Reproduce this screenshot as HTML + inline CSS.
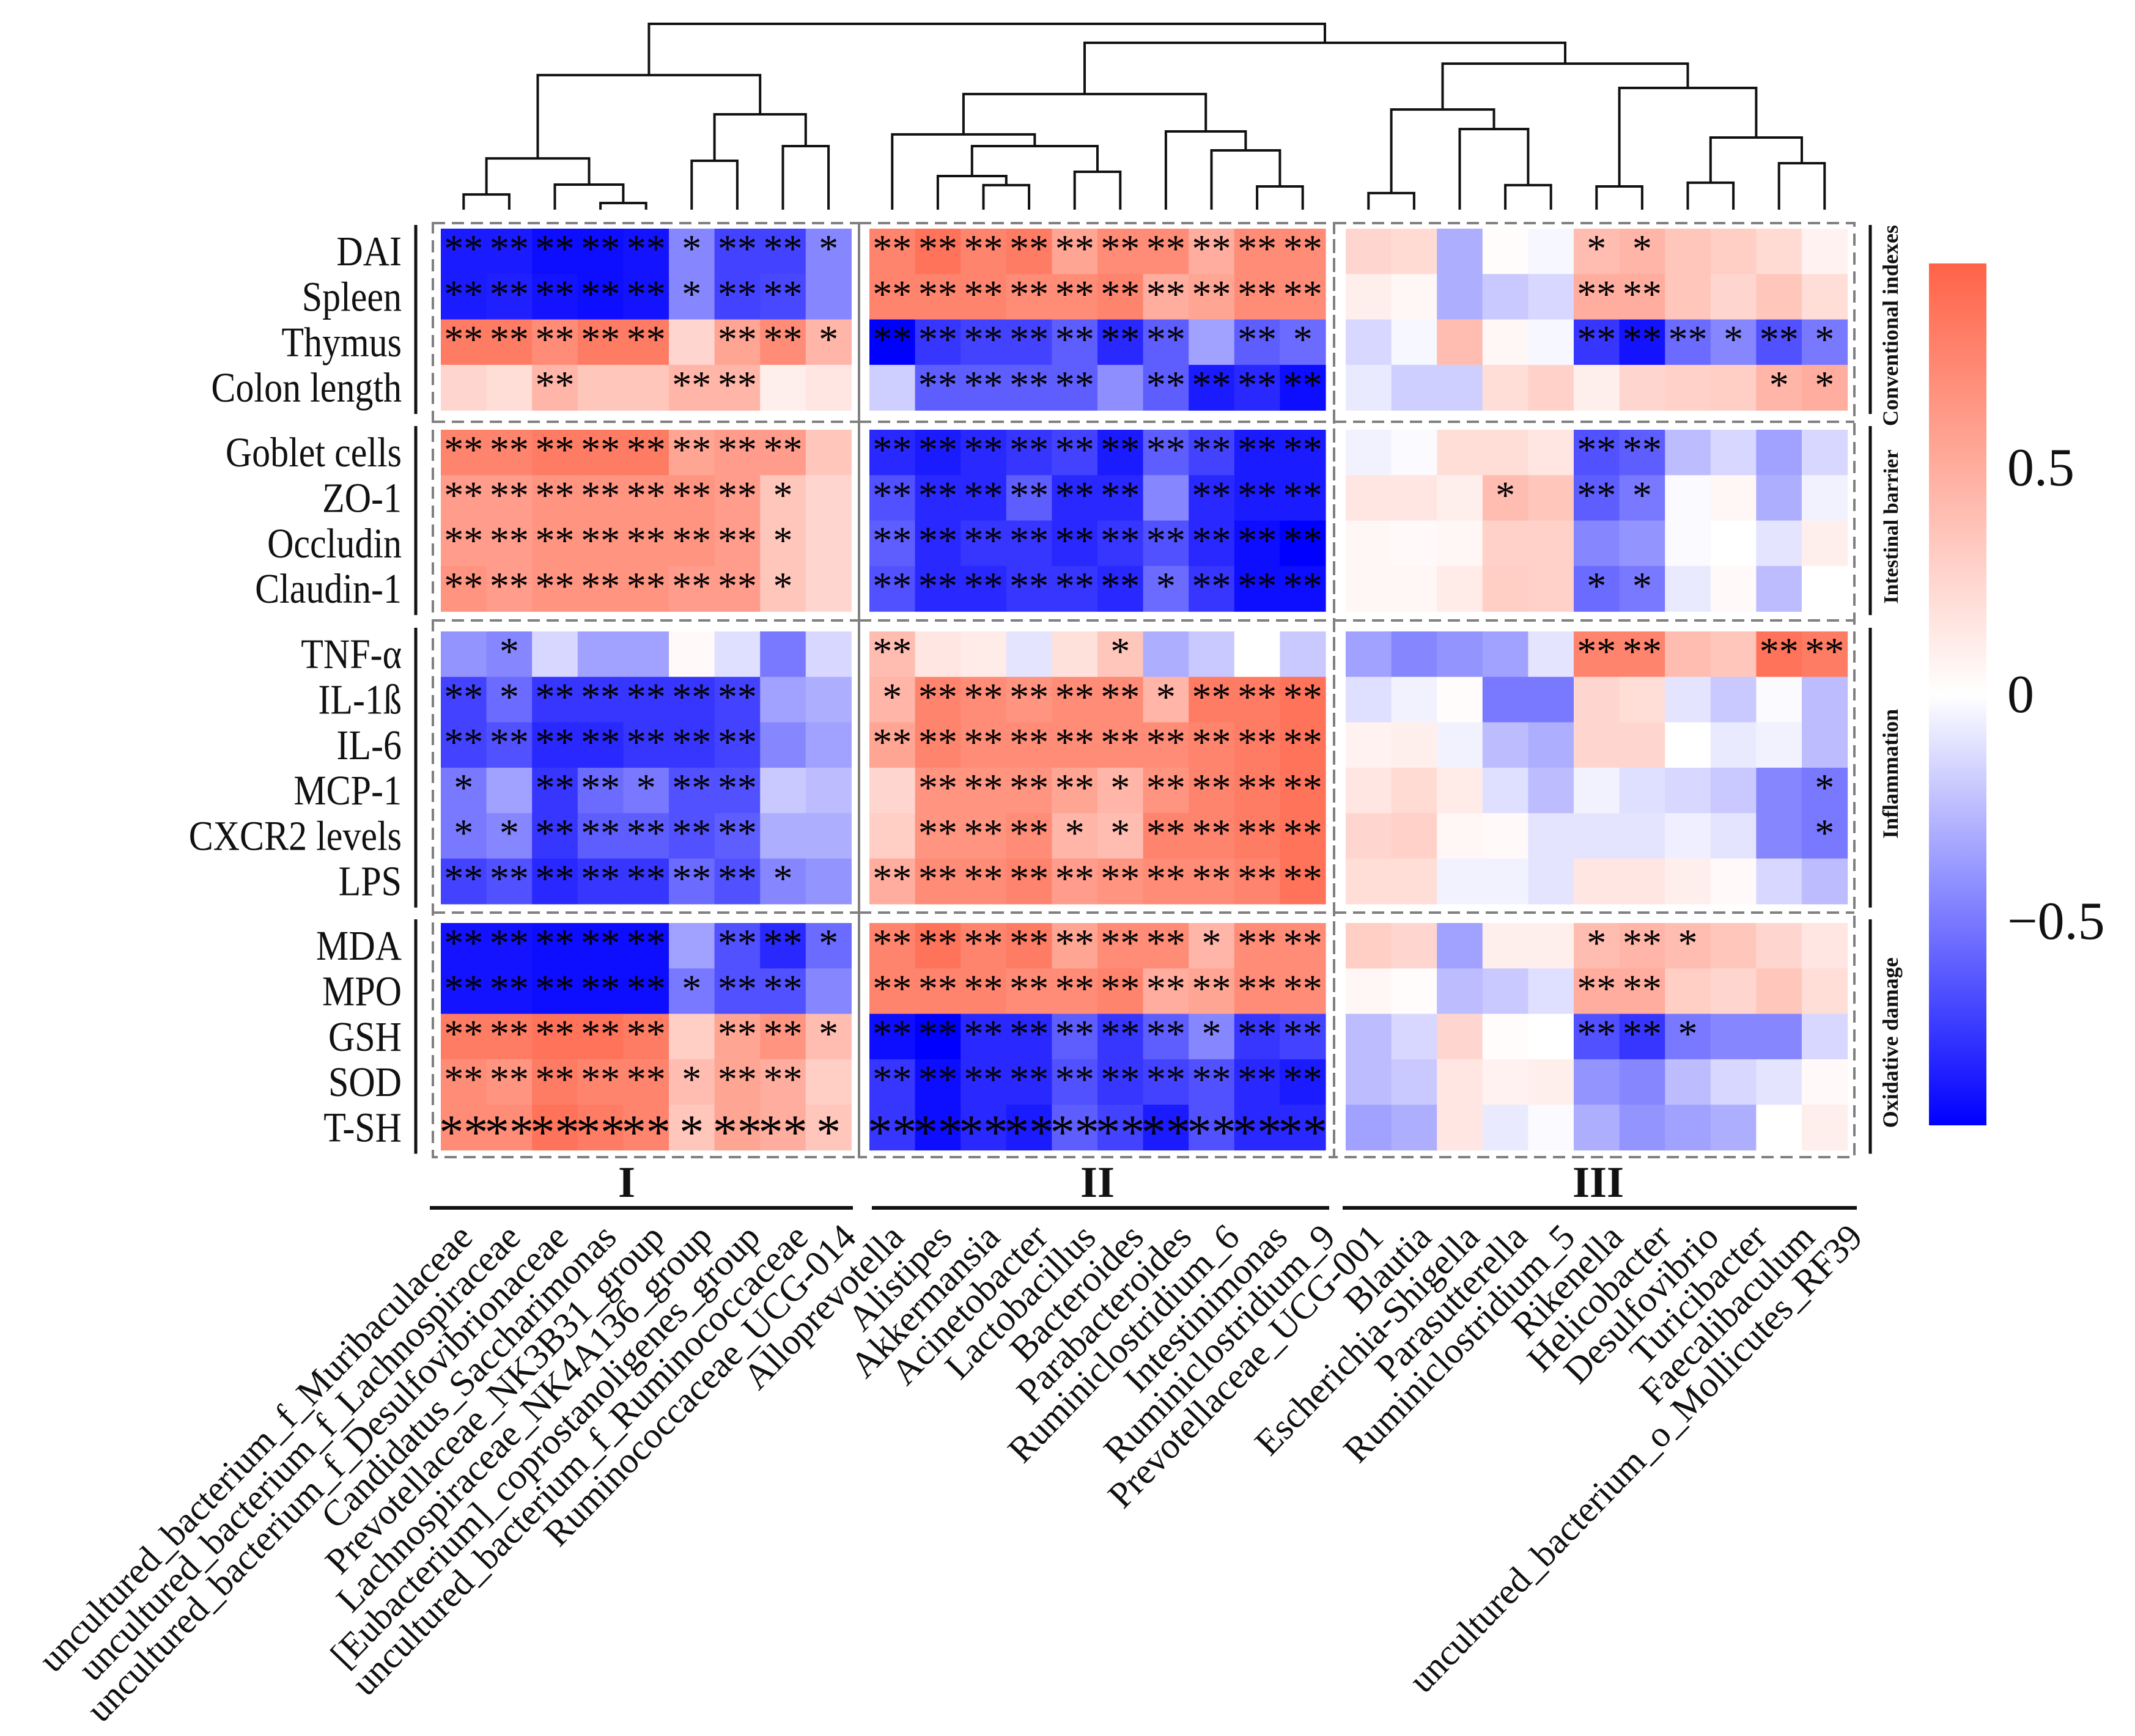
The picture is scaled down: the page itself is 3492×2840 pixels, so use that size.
<!DOCTYPE html>
<html><head><meta charset="utf-8"><style>
html,body{margin:0;padding:0;background:#fff}
svg{display:block}
text{font-family:"Liberation Serif","Times New Roman",serif}
</style></head><body>
<svg id="chart" width="3492" height="2840" viewBox="0 0 3492 2840" xmlns="http://www.w3.org/2000/svg" font-family="Liberation Serif, serif">
<g id="dendro"></g>
<g id="cells"></g>
<g id="stars"></g>
<g id="boxes"></g>
<g id="rowlabels"></g>
<g id="collabels"></g>
<g id="groups"></g>
<g id="legend"></g>
</svg>
<script>
const rowLabels = ["DAI","Spleen","Thymus","Colon length","Goblet cells","ZO-1","Occludin","Claudin-1","TNF-α","IL-1ß","IL-6","MCP-1","CXCR2 levels","LPS","MDA","MPO","GSH","SOD","T-SH"];
const rowGroups = ["Conventional indexes","Intestinal barrier","Inflammation","Oxidative damage"];
const rowGroupSizes = [4,4,6,5];
const clusterNames = ["I","II","III"];
const clusterSizes = [9,10,11];
const colLabels = ["uncultured_bacterium_f_Muribaculaceae","uncultured_bacterium_f_Lachnospiraceae","uncultured_bacterium_f_Desulfovibrionaceae","Candidatus_Saccharimonas","Prevotellaceae_NK3B31_group","Lachnospiraceae_NK4A136_group","[Eubacterium]_coprostanoligenes_group","uncultured_bacterium_f_Ruminococcaceae","Ruminococcaceae_UCG-014","Alloprevotella","Alistipes","Akkermansia","Acinetobacter","Lactobacillus","Bacteroides","Parabacteroides","Ruminiclostridium_6","Intestinimonas","Ruminiclostridium_9","Prevotellaceae_UCG-001","Blautia","Escherichia-Shigella","Parasutterella","Ruminiclostridium_5","Rikenella","Helicobacter","Desulfovibrio","Turicibacter","Faecalibaculum","uncultured_bacterium_o_Mollicutes_RF39"];
const valuesI = [
[-0.85,-0.85,-0.9,-0.9,-0.88,-0.45,-0.7,-0.7,-0.45],
[-0.85,-0.83,-0.88,-0.9,-0.88,-0.45,-0.7,-0.68,-0.45],
[0.8,0.8,0.7,0.8,0.8,0.25,0.55,0.7,0.45],
[0.25,0.2,0.45,0.35,0.35,0.45,0.45,0.1,0.15],
[0.75,0.75,0.8,0.8,0.8,0.55,0.6,0.6,0.35],
[0.6,0.6,0.65,0.65,0.65,0.65,0.6,0.35,0.25],
[0.6,0.6,0.65,0.65,0.65,0.65,0.6,0.35,0.25],
[0.65,0.6,0.65,0.65,0.65,0.6,0.6,0.35,0.25],
[-0.4,-0.45,-0.15,-0.35,-0.35,0.03,-0.12,-0.5,-0.15],
[-0.7,-0.55,-0.75,-0.75,-0.75,-0.75,-0.7,-0.35,-0.3],
[-0.7,-0.65,-0.8,-0.8,-0.75,-0.75,-0.7,-0.45,-0.35],
[-0.5,-0.35,-0.75,-0.55,-0.5,-0.65,-0.65,-0.2,-0.25],
[-0.5,-0.45,-0.75,-0.6,-0.6,-0.65,-0.6,-0.3,-0.3],
[-0.7,-0.65,-0.8,-0.75,-0.75,-0.55,-0.65,-0.45,-0.4],
[-0.88,-0.88,-0.9,-0.9,-0.9,-0.35,-0.65,-0.8,-0.55],
[-0.88,-0.88,-0.9,-0.9,-0.9,-0.5,-0.65,-0.65,-0.45],
[0.8,0.8,0.85,0.85,0.8,0.3,0.55,0.65,0.4],
[0.7,0.65,0.8,0.75,0.75,0.4,0.55,0.5,0.3],
[0.7,0.7,0.85,0.8,0.75,0.35,0.55,0.5,0.35]];
const valuesII = [
[0.75,0.85,0.75,0.8,0.55,0.7,0.7,0.5,0.7,0.7],
[0.75,0.75,0.75,0.7,0.7,0.75,0.5,0.55,0.7,0.7],
[-0.95,-0.75,-0.7,-0.7,-0.6,-0.8,-0.6,-0.35,-0.6,-0.55],
[-0.18,-0.6,-0.6,-0.6,-0.6,-0.42,-0.6,-0.85,-0.8,-0.9],
[-0.8,-0.85,-0.8,-0.75,-0.7,-0.85,-0.6,-0.7,-0.85,-0.85],
[-0.65,-0.8,-0.8,-0.6,-0.8,-0.8,-0.45,-0.8,-0.85,-0.85],
[-0.6,-0.8,-0.75,-0.75,-0.8,-0.75,-0.65,-0.8,-0.9,-0.95],
[-0.65,-0.8,-0.8,-0.75,-0.75,-0.8,-0.55,-0.75,-0.9,-0.9],
[0.4,0.15,0.12,-0.1,0.18,0.35,-0.3,-0.2,0.0,-0.2],
[0.45,0.75,0.7,0.65,0.7,0.7,0.45,0.8,0.8,0.85],
[0.55,0.75,0.7,0.7,0.7,0.7,0.7,0.75,0.8,0.85],
[0.25,0.65,0.65,0.65,0.55,0.45,0.65,0.75,0.8,0.85],
[0.3,0.65,0.65,0.7,0.45,0.4,0.75,0.75,0.8,0.85],
[0.5,0.7,0.7,0.75,0.6,0.65,0.7,0.7,0.75,0.85],
[0.75,0.85,0.75,0.8,0.55,0.7,0.7,0.45,0.7,0.7],
[0.75,0.75,0.75,0.7,0.7,0.75,0.5,0.55,0.7,0.7],
[-0.9,-0.95,-0.8,-0.8,-0.6,-0.75,-0.6,-0.45,-0.75,-0.7],
[-0.75,-0.9,-0.8,-0.8,-0.65,-0.75,-0.7,-0.65,-0.8,-0.85],
[-0.75,-0.9,-0.8,-0.85,-0.6,-0.7,-0.85,-0.65,-0.8,-0.8]];
const valuesIII = [
[0.25,0.22,-0.3,0.02,-0.03,0.4,0.45,0.35,0.3,0.22,0.08],
[0.1,0.05,-0.3,-0.2,-0.15,0.5,0.5,0.35,0.25,0.35,0.2],
[-0.15,-0.03,0.4,0.05,-0.03,-0.75,-0.88,-0.55,-0.45,-0.65,-0.5],
[-0.08,-0.18,-0.18,0.2,0.28,0.1,0.25,0.28,0.3,0.45,0.5],
[-0.05,-0.02,0.2,0.2,0.15,-0.65,-0.6,-0.25,-0.15,-0.35,-0.15],
[0.15,0.15,0.1,0.4,0.35,-0.6,-0.5,-0.02,0.05,-0.3,-0.05],
[0.05,0.03,0.05,0.28,0.28,-0.45,-0.4,-0.02,0.0,-0.1,0.1],
[0.05,0.05,0.12,0.3,0.28,-0.55,-0.5,-0.08,0.03,-0.25,0.0],
[-0.35,-0.45,-0.4,-0.35,-0.1,0.75,0.75,0.4,0.35,0.85,0.8],
[-0.12,-0.05,0.02,-0.5,-0.5,0.25,0.2,-0.1,-0.2,-0.02,-0.25],
[0.08,0.1,-0.05,-0.25,-0.3,0.25,0.25,0.0,-0.08,-0.05,-0.25],
[0.15,0.22,0.12,-0.12,-0.25,-0.05,-0.12,-0.15,-0.2,-0.45,-0.5],
[0.25,0.28,0.05,0.03,-0.1,-0.1,-0.1,-0.06,-0.1,-0.45,-0.5],
[0.2,0.2,-0.05,-0.05,-0.1,0.15,0.15,0.1,0.03,-0.15,-0.25],
[0.3,0.25,-0.35,0.1,0.1,0.4,0.45,0.4,0.35,0.25,0.15],
[0.05,0.02,-0.25,-0.2,-0.12,0.5,0.5,0.3,0.25,0.35,0.2],
[-0.25,-0.15,0.25,0.02,0.0,-0.65,-0.75,-0.5,-0.45,-0.45,-0.15],
[-0.25,-0.2,0.15,0.08,0.1,-0.4,-0.45,-0.25,-0.15,-0.1,0.03],
[-0.35,-0.3,0.15,-0.08,-0.02,-0.3,-0.4,-0.35,-0.3,0.0,0.1]];
const starsI = [
[2,2,2,2,2,1,2,2,1],[2,2,2,2,2,1,2,2,0],[2,2,2,2,2,0,2,2,1],[0,0,2,0,0,2,2,0,0],
[2,2,2,2,2,2,2,2,0],[2,2,2,2,2,2,2,1,0],[2,2,2,2,2,2,2,1,0],[2,2,2,2,2,2,2,1,0],
[0,1,0,0,0,0,0,0,0],[2,1,2,2,2,2,2,0,0],[2,2,2,2,2,2,2,0,0],[1,0,2,2,1,2,2,0,0],
[1,1,2,2,2,2,2,0,0],[2,2,2,2,2,2,2,1,0],
[2,2,2,2,2,0,2,2,1],[2,2,2,2,2,1,2,2,0],[2,2,2,2,2,0,2,2,1],[2,2,2,2,2,1,2,2,0],[2,2,2,2,2,1,2,2,1]];
const starsII = [
[2,2,2,2,2,2,2,2,2,2],[2,2,2,2,2,2,2,2,2,2],[2,2,2,2,2,2,2,0,2,1],[0,2,2,2,2,0,2,2,2,2],
[2,2,2,2,2,2,2,2,2,2],[2,2,2,2,2,2,0,2,2,2],[2,2,2,2,2,2,2,2,2,2],[2,2,2,2,2,2,1,2,2,2],
[2,0,0,0,0,1,0,0,0,0],[1,2,2,2,2,2,1,2,2,2],[2,2,2,2,2,2,2,2,2,2],[0,2,2,2,2,1,2,2,2,2],
[0,2,2,2,1,1,2,2,2,2],[2,2,2,2,2,2,2,2,2,2],
[2,2,2,2,2,2,2,1,2,2],[2,2,2,2,2,2,2,2,2,2],[2,2,2,2,2,2,2,1,2,2],[2,2,2,2,2,2,2,2,2,2],[2,2,2,2,2,2,2,2,2,2]];
const starsIII = [
[0,0,0,0,0,1,1,0,0,0,0],[0,0,0,0,0,2,2,0,0,0,0],[0,0,0,0,0,2,2,2,1,2,1],[0,0,0,0,0,0,0,0,0,1,1],
[0,0,0,0,0,2,2,0,0,0,0],[0,0,0,1,0,2,1,0,0,0,0],[0,0,0,0,0,0,0,0,0,0,0],[0,0,0,0,0,1,1,0,0,0,0],
[0,0,0,0,0,2,2,0,0,2,2],[0,0,0,0,0,0,0,0,0,0,0],[0,0,0,0,0,0,0,0,0,0,0],[0,0,0,0,0,0,0,0,0,0,1],
[0,0,0,0,0,0,0,0,0,0,1],[0,0,0,0,0,0,0,0,0,0,0],
[0,0,0,0,0,1,2,1,0,0,0],[0,0,0,0,0,2,2,0,0,0,0],[0,0,0,0,0,2,2,1,0,0,0],[0,0,0,0,0,0,0,0,0,0,0],[0,0,0,0,0,0,0,0,0,0,0]];
// dendrogram merges: [childA, childB, distance]; leaves are 0..29, new nodes numbered from 30
const merges = [
[0,1,0.82],[3,4,0.36],[2,31,1.35],[30,32,2.76],[5,6,2.63],[7,8,3.42],[34,35,5.13],[33,36,7.24],
[11,12,1.32],[10,38,1.81],[13,14,2.04],[39,40,3.42],[9,41,4.05],[17,18,1.25],[16,43,3.19],[15,44,4.21],[42,45,6.22],
[19,20,0.89],[22,23,1.32],[21,48,4.34],[47,49,5.39],[24,25,1.25],[26,27,1.45],[28,29,2.5],[52,53,3.88],[51,54,6.55],[50,55,7.86],
[46,56,8.98],[37,57,10]];
const legendTicks = [0.5,0,-0.5];
const legendTickLabels = ["0.5","0","\u22120.5"];

const NS="http://www.w3.org/2000/svg";
function mk(tag,attrs,parent){const e=document.createElementNS(NS,tag);for(const k in attrs)e.setAttribute(k,attrs[k]);parent.appendChild(e);return e;}
const blockX0=[721,1422,2201], colW=74.6;
const groupY0=[374,703,1033,1510], rowH=74.3;
const vmax=0.95;
function colX(b,j){return blockX0[b]+j*colW;}
function rowY(r){let g=0,acc=0;while(r>=acc+rowGroupSizes[g]){acc+=rowGroupSizes[g];g++;}return groupY0[g]+(r-acc)*rowH;}
function colorOf(v){let t=Math.max(-1,Math.min(1,v/vmax));let r,g,b;
 if(t>=0){r=255;g=Math.round(255-(255-99)*t);b=Math.round(255-(255-71)*t);}
 else{t=-t;r=Math.round(255*(1-t));g=Math.round(255*(1-t));b=255;}
 return `rgb(${r},${g},${b})`;}
const blocks=[valuesI,valuesII,valuesIII], starBlocks=[starsI,starsII,starsIII];
const gC=document.getElementById('cells'), gS=document.getElementById('stars');
const leafX=[];
blocks.forEach((vals,b)=>{for(let j=0;j<clusterSizes[b];j++)leafX.push(colX(b,j)+colW/2);});
blocks.forEach((vals,b)=>{
 vals.forEach((row,i)=>{row.forEach((v,j)=>{
  const c=mk('rect',{x:colX(b,j).toFixed(1),y:rowY(i).toFixed(1),width:(colW+0.6).toFixed(1),height:(rowH+0.6).toFixed(1),fill:colorOf(v)},gC);
  
  
  const s=starBlocks[b][i][j];
  if(s>0){
   const tsh=(i===rowLabels.length-1);
   const t=mk('text',{x:(colX(b,j)+colW/2).toFixed(1),y:(rowY(i)+(tsh?72:54)).toFixed(1),'text-anchor':'middle','font-size':tsh?80:64,fill:'#000'},gS);
   t.textContent=s===2?'**':'*';
   
   
  }
 });});
});
// dendrogram
const gD=document.getElementById('dendro');
const dBase=343, dTop=39, dMax=10;
function dY(h){return dBase-(h/dMax)*(dBase-dTop);}
const nodeX=leafX.slice(), nodeH=leafX.map(()=>0);
merges.forEach((m)=>{
 const [a,b,h]=m;const y=dY(h);
 const p=mk('path',{d:`M${nodeX[a].toFixed(1)},${dY(nodeH[a]).toFixed(1)}V${y.toFixed(1)}H${nodeX[b].toFixed(1)}V${dY(nodeH[b]).toFixed(1)}`,fill:'none',stroke:'#111','stroke-width':4},gD);
 
 
 nodeX.push((nodeX[a]+nodeX[b])/2);nodeH.push(h);
});
// boxes
const gB=document.getElementById('boxes');
const boxX=[[708,1405],[1405,2182],[2182,3033]];
const boxY=[365,690,1015,1493,1893];
boxX.forEach((bx,b)=>{
 const r=mk('rect',{x:bx[0],y:boxY[0],width:bx[1]-bx[0],height:boxY[4]-boxY[0],fill:'none',stroke:'#808080','stroke-width':4,'stroke-dasharray':'20 11'},gB);
 
 
 for(let k=1;k<4;k++){const l=mk('line',{x1:bx[0],x2:bx[1],y1:boxY[k],y2:boxY[k],stroke:'#808080','stroke-width':4,'stroke-dasharray':'20 11'},gB);
  
  }
});
// row labels
const gR=document.getElementById('rowlabels');
rowLabels.forEach((lab,i)=>{
 const by=rowY(i)+rowH/2+23;
 const t=mk('text',{x:0,y:0,transform:`translate(657,${by.toFixed(1)}) scale(1,1.15)`,'text-anchor':'end','font-size':60,fill:'#111'},gR);
 t.textContent=lab;
 
 
});
// group lines and labels
const gG=document.getElementById('groups');
const gFont=[36,34,36,36];
rowGroups.forEach((g,k)=>{
 const y0=groupY0[k]-6, y1=groupY0[k]+rowGroupSizes[k]*rowH+6;
 const l1=mk('line',{x1:680,x2:680,y1:y0,y2:y1,stroke:'#111','stroke-width':5},gG);
 
 
 const l2=mk('line',{x1:3059,x2:3059,y1:y0,y2:y1,stroke:'#111','stroke-width':5},gG);
 
 
 const cy=(y0+y1)/2+10;
 const t=mk('text',{x:0,y:0,transform:`translate(3104,${cy}) rotate(-90)`,'text-anchor':'middle','font-size':gFont[k],'font-weight':'bold',fill:'#111'},gG);
 t.textContent=g;
 
 
});
// cluster labels and underlines
const gL=document.getElementById('collabels');
const ulX=[[703,1395],[1426,2174],[2196,3037]], romanX=[1025,1795,2614];
clusterNames.forEach((n,b)=>{
 const t=mk('text',{x:romanX[b],y:1958,'text-anchor':'middle','font-size':72,'font-weight':'bold',fill:'#111'},gL);
 t.textContent=n;
 
 
 const l=mk('line',{x1:ulX[b][0],x2:ulX[b][1],y1:1976,y2:1976,stroke:'#111','stroke-width':6},gL);
 
 
});
colLabels.forEach((lab,i)=>{
 const ax=748+78.4*i+28, ay=2027;
 const t=mk('text',{x:0,y:0,transform:`translate(${ax.toFixed(1)},${ay}) rotate(-46)`,'text-anchor':'end','font-size':60,fill:'#111'},gL);
 t.textContent=lab;
 
 
});
// legend
const gLe=document.getElementById('legend');
const defs=mk('defs',{},gLe);
const grad=mk('linearGradient',{id:'cbar',x1:0,y1:0,x2:0,y2:1},defs);
mk('stop',{offset:'0','stop-color':'rgb(255,99,71)'},grad);
mk('stop',{offset:'0.5','stop-color':'#ffffff'},grad);
mk('stop',{offset:'1','stop-color':'#0000ff'},grad);
const cbTop=431, cbBot=1841;
const cb=mk('rect',{x:3155,y:cbTop,width:94,height:cbBot-cbTop,fill:'url(#cbar)'},gLe);


function lgY(v){return cbTop+(vmax-v)/(2*vmax)*(cbBot-cbTop);}
legendTicks.forEach((v,k)=>{
 const t=mk('text',{x:3283,y:(lgY(v)+29).toFixed(1),'font-size':88,fill:'#111'},gLe);
 t.textContent=legendTickLabels[k];
 
 
});
</script>
</body></html>
